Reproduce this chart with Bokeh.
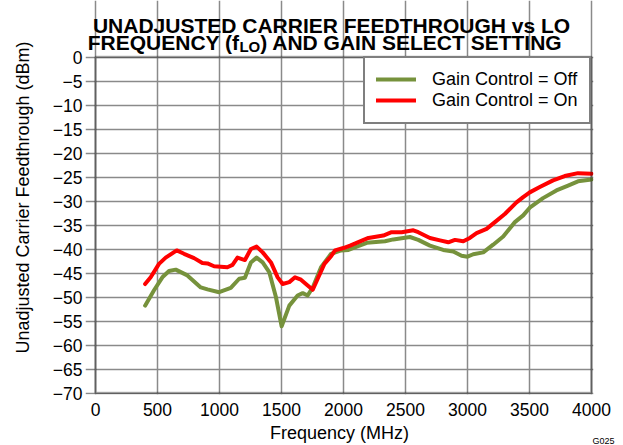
from bokeh.plotting import figure
from bokeh.models import Range1d, Label, FixedTicker, BoxAnnotation, Title
from bokeh.embed import file_html
from bokeh.resources import INLINE

# ---- data ----
freq_off = [400, 472, 539, 593, 647, 741, 849, 903, 997, 1091, 1159, 1205, 1253, 1299,
            1348, 1401, 1455, 1501, 1563, 1630, 1671, 1711, 1752, 1819, 1900, 1981, 2040,
            2107, 2188, 2335, 2402, 2536, 2603, 2697, 2804, 2885, 2952, 3000, 3046, 3127,
            3207, 3288, 3382, 3449, 3502, 3609, 3717, 3811, 3891, 4000]
cf_off = [-51.8, -48.6, -45.9, -44.6, -44.3, -45.5, -48.0, -48.4, -49.0, -48.1, -46.2, -46.0,
          -42.8, -41.8, -42.8, -44.8, -50.0, -56.1, -51.8, -49.7, -49.2, -49.7, -48.0, -43.8,
          -41.0, -40.3, -40.2, -39.5, -38.7, -38.4, -38.0, -37.5, -38.1, -39.3, -40.2, -40.5,
          -41.4, -41.6, -41.1, -40.7, -39.1, -37.4, -34.4, -33.0, -31.4, -29.4, -27.8, -26.8,
          -25.9, -25.5]

freq_on = [400, 445, 512, 566, 655, 714, 795, 862, 903, 956, 1010, 1064, 1105, 1145, 1205,
           1253, 1299, 1348, 1415, 1469, 1509, 1563, 1609, 1657, 1711, 1752, 1792, 1846,
           1900, 1932, 1999, 2053, 2134, 2201, 2321, 2388, 2469, 2563, 2603, 2697, 2778,
           2845, 2899, 2966, 3019, 3073, 3154, 3221, 3301, 3395, 3449, 3502, 3583, 3690,
           3784, 3891, 4000]
cf_on = [-47.3, -45.9, -43.1, -41.8, -40.3, -41.0, -41.9, -42.9, -43.0, -43.6, -43.7, -43.8,
         -43.3, -41.8, -42.3, -40.0, -39.5, -40.7, -42.8, -45.9, -47.3, -46.9, -45.9, -46.4,
         -47.6, -48.5, -46.2, -43.1, -41.5, -40.3, -39.8, -39.3, -38.4, -37.7, -37.2, -36.5,
         -36.5, -36.1, -36.5, -37.7, -38.2, -38.6, -38.1, -38.4, -37.7, -36.7, -35.8, -34.4,
         -32.7, -30.3, -29.2, -28.2, -27.1, -25.7, -24.8, -24.2, -24.3]

series_labels = ["Gain Control = Off", "Gain Control = On"]
x_min, x_max = 0, 4000
y_min, y_max = -70, 0
x_ticks = list(range(0, 4001, 500))
y_ticks = list(range(-70, 1, 5))
title_line1 = "UNADJUSTED CARRIER FEEDTHROUGH vs LO"
title_line2_a = "FREQUENCY (f"
title_line2_sub = "LO"
title_line2_b = ") AND GAIN SELECT SETTING"
x_label = "Frequency (MHz)"
y_label = "Unadjusted Carrier Feedthrough (dBm)"
code_label = "G025"

FONT = "Liberation Sans"
GREEN = "#76923C"
RED = "#FF0000"

# ---- layout geometry (canvas pixels; the page template puts the canvas at 0,0) ----
W, H = 623, 445
FR_L, FR_R = 85, 593          # frame (larger than the chart box: holds the title, border not clipped)
FR_TOP, FR_BOT = 0, 394
CH_L, CH_R = 95, 591          # chart box
CH_TOP, CH_BOT = 56.5, 392.5
xs = (CH_R - CH_L) / (x_max - x_min)
ys = (CH_BOT - CH_TOP) / (y_max - y_min)
x_rng = Range1d(x_min - (CH_L - FR_L) / xs, x_max + (FR_R - CH_R) / xs)
y_rng = Range1d(y_min - (FR_BOT - CH_BOT) / ys, y_max + (CH_TOP - FR_TOP) / ys)

p = figure(width=W, height=H, output_backend="svg", toolbar_location=None, title=None,
           x_range=x_rng, y_range=y_rng,
           min_border_left=FR_L, min_border_right=W - FR_R,
           min_border_top=FR_TOP, min_border_bottom=H - FR_BOT)
p.background_fill_color = "white"
p.border_fill_color = "white"
p.outline_line_color = None

# grid limited to the chart box
p.xgrid.ticker = FixedTicker(ticks=x_ticks)
p.ygrid.ticker = FixedTicker(ticks=y_ticks)
p.xgrid.bounds = (y_min, y_max)
p.ygrid.bounds = (x_min, x_max)
p.grid.grid_line_color = "#8a8a8a"
p.grid.grid_line_width = 1.5

p.line(freq_off, cf_off, line_color=GREEN, line_width=4, line_join="round",
       line_cap="round", legend_label=series_labels[0])
p.line(freq_on, cf_on, line_color=RED, line_width=4, line_join="round",
       line_cap="round", legend_label=series_labels[1])

# chart border
p.add_layout(BoxAnnotation(left=x_min, right=x_max, bottom=y_min, top=y_max,
                           fill_color=None, fill_alpha=0, line_color="black",
                           line_width=2.5))

# axes
p.xaxis.ticker = FixedTicker(ticks=x_ticks)
p.yaxis.ticker = FixedTicker(ticks=y_ticks)
p.xaxis.bounds = (x_min, x_max)
p.yaxis.bounds = (y_min, y_max)
p.yaxis.major_label_overrides = {t: (("\u2212" + str(-t)) if t < 0 else str(t)) for t in y_ticks}
for ax in (p.xaxis[0], p.yaxis[0]):
    ax.axis_line_color = None
    ax.major_tick_line_color = None
    ax.minor_tick_line_color = None
    ax.major_tick_out = 0
    ax.major_tick_in = 0
    ax.minor_tick_out = 0
    ax.minor_tick_in = 0
    ax.major_label_text_font = FONT
    ax.major_label_text_font_size = "17.5px"
    ax.major_label_text_color = "black"
    ax.axis_label_text_font = FONT
    ax.axis_label_text_font_size = "18px"
    ax.axis_label_text_font_style = "normal"
    ax.axis_label_text_color = "black"
p.xaxis.axis_label = x_label
p.yaxis.axis_label = y_label
p.xaxis.major_label_standoff = 8
p.xaxis.axis_label_standoff = 4
p.yaxis.major_label_standoff = 3
p.yaxis.axis_label_standoff = 17

# legend
lg = p.legend[0]
lg.location = (363 - FR_L, FR_BOT - 123.5)
lg.margin = 0
lg.padding = 11
lg.spacing = 0
lg.glyph_width = 40
lg.glyph_height = 20
lg.label_height = 20
lg.label_width = 143
lg.label_standoff = 16
lg.label_text_font = FONT
lg.label_text_font_size = "18px"
lg.label_text_color = "black"
lg.border_line_color = "black"
lg.border_line_width = 2
lg.background_fill_color = "white"
lg.background_fill_alpha = 1.0

# title, drawn inside the (extended) frame; screen units are frame relative, y up
def sx(px):
    return px - FR_L
def sy(py):
    return FR_BOT - py

TFS, SFS = 21, 15
t_center = 331
w_a = 7.222 * TFS            # Liberation Sans Bold advance widths (em)
w_sub = 1.389 * SFS
w_b = 15.001 * TFS
start = t_center - (w_a + w_sub + w_b) / 2
common = dict(x_units="screen", y_units="screen", text_baseline="alphabetic",
              text_font=FONT, text_font_style="bold", text_color="black")
p.add_layout(Label(x=sx(t_center), y=sy(25), text=title_line1, text_align="center",
                   text_font_size=f"{TFS}px", **common))
p.add_layout(Label(x=sx(start + w_a), y=sy(41.7), text=title_line2_a, text_align="right",
                   text_font_size=f"{TFS}px", **common))
p.add_layout(Label(x=sx(start + w_a), y=sy(45.5), text=title_line2_sub, text_align="left",
                   text_font_size=f"{SFS}px", **common))
p.add_layout(Label(x=sx(start + w_a + w_sub), y=sy(41.7), text=title_line2_b,
                   text_align="left", text_font_size=f"{TFS}px", **common))

# figure code at the bottom right, below the axis
p.add_layout(Title(text=code_label, align="right", vertical_align="top", standoff=-20,
                   offset=-21, text_font=FONT, text_font_size="9px",
                   text_font_style="normal", text_color="black"), "below")

open("out.html", "w").write(file_html(p, INLINE))
